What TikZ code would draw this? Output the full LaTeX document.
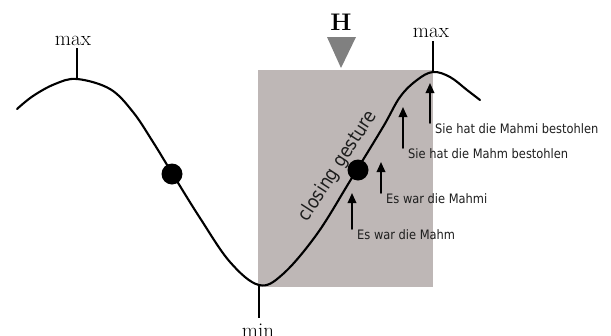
\documentclass[tikz,border=0pt]{standalone}
\usepackage{fontspec}
\newfontfamily\glossfont[FakeStretch=0.88]{DejaVu Sans}
\usetikzlibrary{arrows.meta,positioning}
\definecolor{boxgrey}{RGB}{190,183,182}
\definecolor{markgrey}{RGB}{128,128,128}
\definecolor{inkdark}{RGB}{30,30,30}

\begin{document}
\begin{tikzpicture}[x=1pt,y=-1pt,line cap=round,line join=round,
  wave/.style={line width=2.1pt},
  tick/.style={line width=2pt,line cap=butt},
  peak/.style={font=\fontsize{21}{21}\selectfont,inner sep=0pt,anchor=base},
  sentence/.style={font=\glossfont\fontsize{13}{15}\selectfont,text=inkdark,
    anchor=north west,inner xsep=5pt,inner ysep=0pt},
  rise/.style={line width=1.8pt,-{Triangle[width=8.5pt,length=10pt]}}]
 \useasboundingbox (0,0) rectangle (611,335);
 % Grey window over the rising half of the wave.
 \fill[boxgrey] (258,70) rectangle (433,287);
 \node[font=\bfseries\fontsize{24}{24}\selectfont,inner sep=0pt] (H) at (341,22) {H};
 \fill[markgrey] (327,37) -- (356,37) -- (341,68) -- cycle;
 % The wave, with its two maxima and the minimum.
 \draw[wave] plot[smooth,tension=0.6] coordinates {
  (17,109) (33,96) (55,84) (77,79) (110,89) (133,112) (153,142) (172,173)
  (200,218) (230,262) (259,285) (283,274) (317,234) (350,181) (383,127)
  (400,97) (417,80) (433,72) (450,77) (467,90) (480,100)};
 \coordinate (max1) at (77,79);
 \coordinate (min) at (259,285);
 \coordinate (max2) at (433,72);
 \node[peak] (lmax1) at (73,45) {max};
 \node[peak] (lmin) at (258,337) {min};
 \node[peak] (lmax2) at (431,37) {max};
 \draw[tick] (max1) -- (max1 |- 0,48);
 \draw[tick] (min) -- (min |- 0,318);
 \draw[tick] (max2) -- (max2 |- 0,41);
 \fill (172,174) circle (10.5pt);
 \fill (358,170) circle (10.5pt);
 \node[font=\glossfont\fontsize{19}{19}\selectfont,text=inkdark,rotate=57,inner sep=0pt]
  (gest) at (338,166) {closing gesture};
 % Sentences and their arrows up to the wave.
 \node[sentence] (s1) at (352,229) {Es war die Mahm};
 \node[sentence] (s2) at (381,193) {Es war die Mahmi};
 \node[sentence] (s3) at (403,148) {Sie hat die Mahm bestohlen};
 \node[sentence] (s4) at (430,123) {Sie hat die Mahmi bestohlen};
 \coordinate (tip1) at (352,193);
 \coordinate (tip2) at (381,162);
 \coordinate (tip3) at (403,107);
 \coordinate (tip4) at (430,83);
 \draw[rise] (s1.north west) -- (tip1);
 \draw[rise] (s2.north west) -- (tip2);
 \draw[rise] (s3.north west) -- (tip3);
 \draw[rise] (s4.north west) -- (tip4);
\end{tikzpicture}
\end{document}
